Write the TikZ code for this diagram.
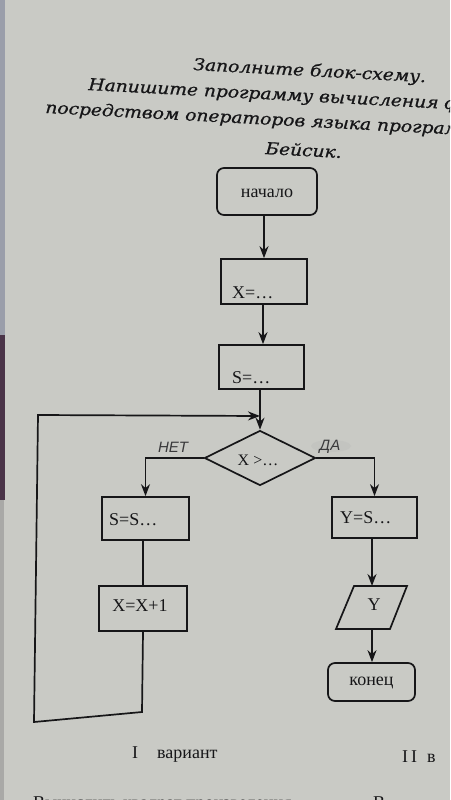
\documentclass[tikz,border=0pt]{standalone}
\usepackage{fontspec}
\setmainfont{Liberation Serif}
\newfontfamily\titlefont[FakeBold=0.8,ItalicFeatures={FakeBold=0.8}]{DejaVu Serif}
\newfontfamily\handfont{Liberation Sans}
\usetikzlibrary{arrows.meta,shapes.geometric}
\definecolor{paper}{HTML}{C9CAC5}
\definecolor{ink}{HTML}{161618}
\definecolor{edgetop}{HTML}{9A9EAA}
\definecolor{edgemid}{HTML}{4A3448}
\definecolor{edgebot}{HTML}{A9A9A7}
\tikzset{
  box/.style={draw=ink, line width=1.7pt, minimum width=86pt, minimum height=44pt, inner sep=0pt},
  term/.style={box, rounded corners=7pt},
  lbl/.style={text=ink, font=\fontsize{18}{20}\selectfont, inner sep=0pt},
  ttl/.style={text=ink, inner sep=0pt, anchor=base west, rotate=-3,
    font=\titlefont\itshape\fontsize{16.5}{18}\selectfont},
  hand/.style={text=ink!85, inner sep=0pt, font=\handfont\itshape\fontsize{15}{17}\selectfont},
  arr/.style={draw=ink, line width=1.7pt, -{Stealth[length=12pt,width=9pt]}},
  ln/.style={draw=ink, line width=1.7pt}
}
\begin{document}
\begin{tikzpicture}[x=1pt,y=-1pt]
\useasboundingbox (0,0) rectangle (450,800);
\clip (0,0) rectangle (450,800);
\fill[paper] (0,0) rectangle (450,800);
\fill[edgetop] (0,0) rectangle (5,335);
\fill[edgemid] (0,335) rectangle (5,500);
\fill[edgebot] (0,500) rectangle (4,800);

% title
\node[ttl] (t1) at (193,70) {\scalebox{1.13}[1]{Заполните блок-схему.}};
\node[ttl] (t2) at (88,90) {\scalebox{1.13}[1]{Напишите программу вычисления функции}};
\node[ttl] (t3) at (45,113) {\scalebox{1.13}[1]{посредством операторов языка программирования}};
\node[ttl] (t4) at (265,154) {\scalebox{1.13}[1]{Бейсик.}};

% blocks
\node[term, minimum width=100pt, minimum height=47pt] (start) at (267,191.5) {};
\node[lbl] (startt) at (267,193) {начало};
\node[box, minimum width=86pt, minimum height=45pt] (xb) at (264,281.5) {};
\node[lbl, anchor=base west] (xbt) at (232,298) {X=\dots};
\node[box, minimum width=85pt, minimum height=44pt] (sb) at (261.5,367) {};
\node[lbl, anchor=base west] (sbt) at (232,383) {S=\dots};
\node[draw=ink, line width=1.7pt, diamond, minimum width=111pt, minimum height=55pt, inner sep=0pt] (dia) at (260,458) {};
\node[lbl, font=\fontsize{16}{18}\selectfont] (diat) at (258,460) {X >\dots};
\node[box, minimum width=87pt, minimum height=43pt] (ss) at (145.5,518.5) {};
\node[lbl, anchor=west] (sst) at (109,520) {S=S\dots};
\node[box, minimum width=88pt, minimum height=45pt] (xx) at (143,608.5) {};
\node[lbl] (xxt) at (140,606) {X=X+1};
\node[box, minimum width=85pt, minimum height=41pt] (yb) at (374.5,517.5) {};
\node[lbl, anchor=west] (ybt) at (340,518) {Y=S\dots};
\coordinate (pa) at (336,629);
\coordinate (pb) at (390,629);
\coordinate (pc) at (407,586);
\coordinate (pd) at (354,586);
\draw[ln] (pa) -- (pb) -- (pc) -- (pd) -- cycle;
\node[lbl] (outy) at (374,605) {Y};
\node[term, minimum width=87pt, minimum height=38pt] (stop) at (371.5,682) {};
\node[lbl] (stopt) at (371.5,683) {конец};

% labels
\node[hand] (no) at (173,447) {НЕТ};
\fill[gray!55, opacity=0.35] (331,446) ellipse (20pt and 6pt);
\node[hand] (yes) at (330,447) {ДА};

% connectors
\draw[arr] (xb.north |- start.south) -- (xb.north);
\draw[arr] ([xshift=1.5pt]sb.north |- xb.south) -- ([xshift=1.5pt]sb.north);
\coordinate (j) at (260,416);
\draw[arr] (sb.south -| dia.north) -- (dia.north);
\draw[arr] (xx.south) -- (142,712) -- (34,722) -- (38,415) -- (j);
\draw[arr] (dia.west) -| (ss.north);
\draw[arr] (dia.east) -| (yb.north);
\draw[ln] (ss.south -| xx.north) -- (xx.north);
\coordinate (pt) at (372,586);
\coordinate (pbm) at (372,629);
\draw[arr] (yb.south -| pt) -- (pt);
\draw[arr] (pbm) -- (stop.north -| pbm);

% bottom text
\node[lbl, anchor=base west] (v1) at (132,758) {I\hspace{19pt}вариант};
\node[lbl, anchor=base west] (v2) at (402,762) {I\hspace{3pt}I\hspace{10pt}в};
\node[lbl, anchor=base west] (v3) at (33,808) {Вычислить квадрат произведения};
\node[lbl, anchor=base west] (v4) at (373,808) {В};
\end{tikzpicture}
\end{document}
